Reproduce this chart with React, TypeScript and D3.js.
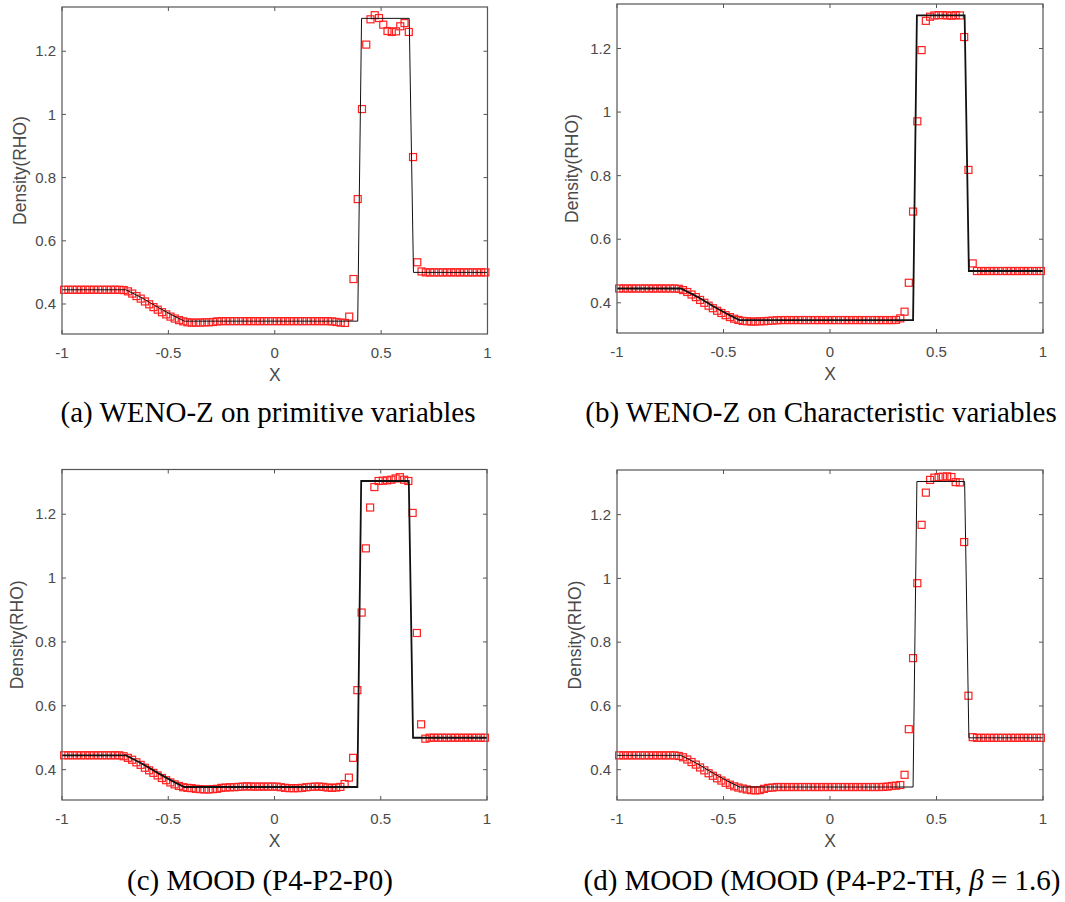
import React from 'react';
import * as d3 from 'd3';

// Cell-centre grid (100 cells on [-1, 1])
const X_GRID = [
  -0.99, -0.97, -0.95, -0.93, -0.91, -0.89, -0.87, -0.85, -0.83, -0.81,
  -0.79, -0.77, -0.75, -0.73, -0.71, -0.69, -0.67, -0.65, -0.63, -0.61,
  -0.59, -0.57, -0.55, -0.53, -0.51, -0.49, -0.47, -0.45, -0.43, -0.41,
  -0.39, -0.37, -0.35, -0.33, -0.31, -0.29, -0.27, -0.25, -0.23, -0.21,
  -0.19, -0.17, -0.15, -0.13, -0.11, -0.09, -0.07, -0.05, -0.03, -0.01,
  0.01, 0.03, 0.05, 0.07, 0.09, 0.11, 0.13, 0.15, 0.17, 0.19,
  0.21, 0.23, 0.25, 0.27, 0.29, 0.31, 0.33, 0.35, 0.37, 0.39,
  0.41, 0.43, 0.45, 0.47, 0.49, 0.51, 0.53, 0.55, 0.57, 0.59,
  0.61, 0.63, 0.65, 0.67, 0.69, 0.71, 0.73, 0.75, 0.77, 0.79,
  0.81, 0.83, 0.85, 0.87, 0.89, 0.91, 0.93, 0.95, 0.97, 0.99,
];

// Exact solution (black line)
const EXACT_X = [-1, -0.70, -0.62, -0.55, -0.48, -0.425, 0.390, 0.408, 0.632, 0.652, 1];
const EXACT_Y = [0.445, 0.445, 0.418, 0.390, 0.364, 0.3457, 0.3457, 1.304, 1.304, 0.5, 0.5];

// (a) WENO-Z on primitive variables
const RHO_A = [
  0.445, 0.445, 0.445, 0.445, 0.445, 0.445, 0.445, 0.445, 0.445, 0.445,
  0.445, 0.445, 0.445, 0.445, 0.444, 0.440, 0.433, 0.425, 0.417, 0.408,
  0.399, 0.390, 0.382, 0.374, 0.367, 0.360, 0.354, 0.349, 0.345, 0.342,
  0.341, 0.341, 0.341, 0.342, 0.342, 0.343, 0.345, 0.3457, 0.3457, 0.3457,
  0.3457, 0.3457, 0.3457, 0.3457, 0.3457, 0.3457, 0.3457, 0.3457, 0.3457, 0.3457,
  0.3457, 0.3457, 0.3457, 0.3457, 0.3457, 0.3457, 0.3457, 0.3457, 0.3457, 0.3457,
  0.3457, 0.3457, 0.3457, 0.345, 0.343, 0.341, 0.340, 0.360, 0.479, 0.732,
  1.017, 1.221, 1.301, 1.314, 1.305, 1.284, 1.264, 1.261, 1.263, 1.279,
  1.289, 1.261, 0.865, 0.532, 0.503, 0.5, 0.5, 0.5, 0.5, 0.5,
  0.5, 0.5, 0.5, 0.5, 0.5, 0.5, 0.5, 0.5, 0.5, 0.5,
];

// (b) WENO-Z on characteristic variables
const RHO_B = [
  0.445, 0.445, 0.445, 0.445, 0.445, 0.445, 0.445, 0.445, 0.445, 0.445,
  0.445, 0.445, 0.445, 0.445, 0.444, 0.440, 0.434, 0.426, 0.418, 0.409,
  0.400, 0.391, 0.383, 0.375, 0.368, 0.361, 0.355, 0.350, 0.346, 0.343,
  0.342, 0.341, 0.341, 0.342, 0.342, 0.343, 0.344, 0.345, 0.3457, 0.3457,
  0.3457, 0.3457, 0.3457, 0.3457, 0.3457, 0.3457, 0.3457, 0.3457, 0.3457, 0.3457,
  0.3457, 0.3457, 0.3457, 0.3457, 0.3457, 0.3457, 0.3457, 0.3457, 0.3457, 0.3457,
  0.3457, 0.3457, 0.3457, 0.3457, 0.3457, 0.346, 0.351, 0.372, 0.463, 0.687,
  0.971, 1.195, 1.287, 1.300, 1.304, 1.305, 1.305, 1.304, 1.303, 1.305,
  1.304, 1.236, 0.818, 0.524, 0.500, 0.5, 0.5, 0.5, 0.5, 0.5,
  0.5, 0.5, 0.5, 0.5, 0.5, 0.5, 0.5, 0.5, 0.5, 0.5,
];

// (c) MOOD (P4-P2-P0)
const RHO_C = [
  0.445, 0.445, 0.445, 0.445, 0.445, 0.445, 0.445, 0.445, 0.445, 0.445,
  0.445, 0.445, 0.445, 0.445, 0.442, 0.437, 0.431, 0.423, 0.415, 0.406,
  0.398, 0.390, 0.382, 0.374, 0.367, 0.360, 0.354, 0.349, 0.345, 0.343,
  0.342, 0.340, 0.339, 0.338, 0.338, 0.339, 0.340, 0.343, 0.344, 0.345,
  0.345, 0.346, 0.347, 0.348, 0.347, 0.347, 0.347, 0.347, 0.347, 0.347,
  0.347, 0.345, 0.343, 0.342, 0.342, 0.342, 0.343, 0.345, 0.346, 0.347,
  0.347, 0.346, 0.344, 0.343, 0.344, 0.346, 0.355, 0.375, 0.437, 0.649,
  0.892, 1.093, 1.221, 1.285, 1.304, 1.305, 1.306, 1.308, 1.312, 1.316,
  1.308, 1.304, 1.204, 0.828, 0.542, 0.497, 0.5, 0.5, 0.5, 0.5,
  0.5, 0.5, 0.5, 0.5, 0.5, 0.5, 0.5, 0.5, 0.5, 0.5,
];

// (d) MOOD (P4-P2-TH, beta = 1.6)
const RHO_D = [
  0.445, 0.445, 0.445, 0.445, 0.445, 0.445, 0.445, 0.445, 0.445, 0.445,
  0.445, 0.445, 0.445, 0.445, 0.443, 0.439, 0.432, 0.424, 0.416, 0.407,
  0.398, 0.389, 0.381, 0.373, 0.366, 0.359, 0.353, 0.348, 0.344, 0.341,
  0.338, 0.336, 0.335, 0.336, 0.340, 0.343, 0.344, 0.3457, 0.3457, 0.3457,
  0.3457, 0.3457, 0.3457, 0.3457, 0.3457, 0.3457, 0.3457, 0.3457, 0.3457, 0.3457,
  0.3457, 0.3457, 0.3457, 0.3457, 0.3457, 0.3457, 0.3457, 0.3457, 0.3457, 0.3457,
  0.3457, 0.3457, 0.346, 0.347, 0.349, 0.350, 0.352, 0.384, 0.527, 0.750,
  0.985, 1.168, 1.269, 1.309, 1.316, 1.318, 1.319, 1.320, 1.318, 1.302,
  1.301, 1.114, 0.632, 0.502, 0.5, 0.5, 0.5, 0.5, 0.5, 0.5,
  0.5, 0.5, 0.5, 0.5, 0.5, 0.5, 0.5, 0.5, 0.5, 0.5,
];

const X_TICKS = [-1, -0.5, 0, 0.5, 1];
const X_TICK_LABELS = ['-1', '-0.5', '0', '0.5', '1'];
const Y_TICKS = [0.4, 0.6, 0.8, 1, 1.2];
const Y_TICK_LABELS = ['0.4', '0.6', '0.8', '1', '1.2'];
const Y_DOMAIN = [0.305, 1.34];

const SANS = 'Liberation Sans, Arial, Helvetica, sans-serif';
const SERIF = 'Liberation Serif, Times New Roman, serif';
const AXIS_COLOR = '#555555';
const TEXT_COLOR = '#4a4a4a';

type PanelProps = {
  left: number; top: number; width: number; height: number;
  values: number[]; lineWidth: number; labelOffset: number;
};

function Panel({ left, top, width, height, values, lineWidth, labelOffset }: PanelProps) {
  const x = d3.scaleLinear().domain([-1, 1]).range([left, left + width]);
  const y = d3.scaleLinear().domain(Y_DOMAIN).range([top + height, top]);
  const exactPts: [number, number][] = EXACT_X.map((v, i) => [v, EXACT_Y[i]]);
  const line = d3.line<[number, number]>().x(d => x(d[0])).y(d => y(d[1]));
  const ms = 7;
  const tl = 4;
  const bottom = top + height;
  const right = left + width;
  return (
    <g>
      <rect x={left} y={top} width={width} height={height} fill="white" />
      {X_TICKS.map((t, i) => (
        <g key={'xt' + i}>
          <line x1={x(t)} x2={x(t)} y1={bottom} y2={bottom - tl} stroke={AXIS_COLOR} strokeWidth={1} />
          <line x1={x(t)} x2={x(t)} y1={top} y2={top + tl} stroke={AXIS_COLOR} strokeWidth={1} />
          <text x={x(t)} y={bottom + 23.5} textAnchor="middle" fontFamily={SANS} fontSize={15} fill={TEXT_COLOR}>
            {X_TICK_LABELS[i]}
          </text>
        </g>
      ))}
      {Y_TICKS.map((t, i) => (
        <g key={'yt' + i}>
          <line x1={left} x2={left + tl} y1={y(t)} y2={y(t)} stroke={AXIS_COLOR} strokeWidth={1} />
          <line x1={right} x2={right - tl} y1={y(t)} y2={y(t)} stroke={AXIS_COLOR} strokeWidth={1} />
          <text x={left - 6} y={y(t)} dy="0.35em" textAnchor="end" fontFamily={SANS} fontSize={15} fill={TEXT_COLOR}>
            {Y_TICK_LABELS[i]}
          </text>
        </g>
      ))}
      {values.map((v, i) => (
        <rect key={'m' + i} x={x(X_GRID[i]) - ms / 2} y={y(v) - ms / 2} width={ms} height={ms}
          fill="none" stroke="#ff2020" strokeWidth={1.2} />
      ))}
      <path d={line(exactPts) || ''} fill="none" stroke="#111111" strokeWidth={lineWidth} />
      <rect x={left} y={top} width={width} height={height} fill="none" stroke={AXIS_COLOR} strokeWidth={1.2} />
      <text x={(left + right) / 2} y={bottom + 47} textAnchor="middle" fontFamily={SANS} fontSize={17.5} fill={TEXT_COLOR}>X</text>
      <text transform={`translate(${left - labelOffset},${(top + bottom) / 2}) rotate(-90)`} textAnchor="middle"
        fontFamily={SANS} fontSize={17.5} fill={TEXT_COLOR}>Density(RHO)</text>
    </g>
  );
}

export default function App() {
  return (
    <svg width={1065} height={902} style={{ position: 'absolute', left: 0, top: 0, background: 'white' }}>
      <rect x={0} y={0} width={1065} height={902} fill="white" />
      <Panel left={62} top={7} width={425.5} height={327} values={RHO_A} lineWidth={1} labelOffset={36} />
      <Panel left={617} top={4} width={426} height={329} values={RHO_B} lineWidth={1.8} labelOffset={39} />
      <Panel left={62} top={469.5} width={425} height={330.5} values={RHO_C} lineWidth={1.8} labelOffset={39} />
      <Panel left={617} top={470} width={426} height={330} values={RHO_D} lineWidth={1} labelOffset={36} />
      <text x={268} y={422} textAnchor="middle" fontFamily={SERIF} fontSize={29} fill="#000">(a) WENO-Z on primitive variables</text>
      <text x={821} y={422} textAnchor="middle" fontFamily={SERIF} fontSize={29} fill="#000">(b) WENO-Z on Characteristic variables</text>
      <text x={260} y={890} textAnchor="middle" fontFamily={SERIF} fontSize={29} fill="#000">(c) MOOD (P4-P2-P0)</text>
      <text x={822} y={890} textAnchor="middle" fontFamily={SERIF} fontSize={29} fill="#000">
        (d) MOOD (MOOD (P4-P2-TH, <tspan fontStyle="italic">β</tspan> = 1.6)
      </text>
    </svg>
  );
}
